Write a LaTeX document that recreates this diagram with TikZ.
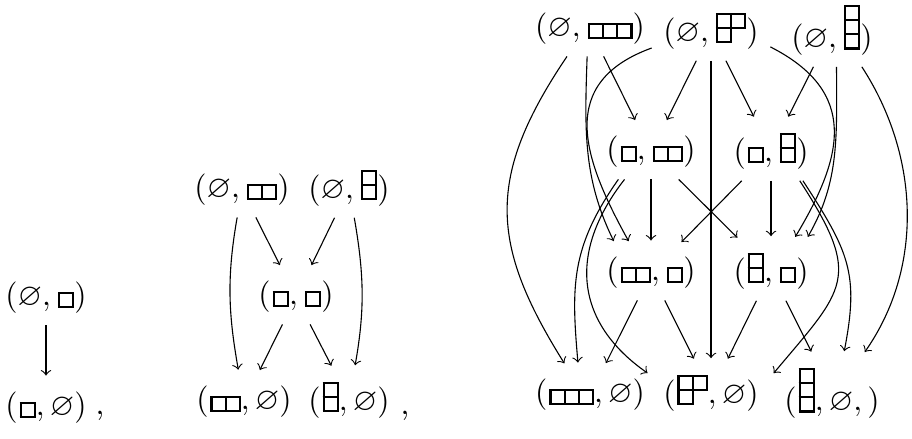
\documentclass[tikz,border=0pt]{standalone}
\usepackage{amssymb}
\setlength{\fboxsep}{0pt}
\setlength{\fboxrule}{0.7pt}
\newcommand{\ycell}{\fbox{\rule{0pt}{3.8pt}\rule{3.8pt}{0pt}}}
\newcommand{\yd}[1]{\kern0.6pt\vbox{\offinterlineskip#1}}
\newcommand{\ybox}{\yd{\hbox{\ycell}}}
\newcommand{\ytwo}{\yd{\hbox{\ycell\kern-\fboxrule\ycell}}}
\newcommand{\ythree}{\yd{\hbox{\ycell\kern-\fboxrule\ycell\kern-\fboxrule\ycell}}}
\newcommand{\ytwov}{\yd{\hbox{\ycell}\kern-\fboxrule\hbox{\ycell}}}
\newcommand{\ythreev}{\yd{\hbox{\ycell}\kern-\fboxrule\hbox{\ycell}\kern-\fboxrule\hbox{\ycell}}}
\newcommand{\yhook}{\yd{\hbox{\ycell\kern-\fboxrule\ycell}\kern-\fboxrule\hbox{\ycell}}}

\begin{document}
\begin{tikzpicture}[x=0.3175pt,y=-0.3175pt,
    obj/.style={inner sep=3.5pt},
    map/.style={->,line width=0.35pt,shorten >=1.6pt}]
    \useasboundingbox (0,0) rectangle (912,439);

    \node[obj] (N0x1) at (46,298) {$(\varnothing,\ybox)$};
    \node[obj] (N1x0) at (46,408) {$(\ybox,\varnothing)$};
    \node[anchor=base,inner sep=0pt] (C1) at (100,415) {,};

    \node[obj] (M0x2) at (242,190) {$(\varnothing,\ytwo)$};
    \node[obj] (M0x11) at (349,188) {$(\varnothing,\ytwov)$};
    \node[obj] (M1x1) at (296,297) {$(\ybox,\ybox)$};
    \node[obj] (M2x0) at (244,402) {$(\ytwo,\varnothing)$};
    \node[obj] (M11x0) at (349,400) {$(\ytwov,\varnothing)$};
    \node[anchor=base,inner sep=0pt] (C2) at (405,415) {,};

    \node[obj] (T0x3) at (590,29) {$(\varnothing,\ythree)$};
    \node[obj] (T0x21) at (711,31) {$(\varnothing,\yhook)$};
    \node[obj] (T0x111) at (832,30) {$(\varnothing,\ythreev)$};
    \node[obj] (T1x2) at (651,152) {$(\ybox,\ytwo)$};
    \node[obj] (T1x11) at (771,151) {$(\ybox,\ytwov)$};
    \node[obj] (T2x1) at (651,273) {$(\ytwo,\ybox)$};
    \node[obj] (T11x1) at (771,271) {$(\ytwov,\ybox)$};
    \node[obj] (T3x0) at (590,395) {$(\ythree,\varnothing)$};
    \node[obj] (T21x0) at (711,393) {$(\yhook,\varnothing)$};
    \node[obj] (T111x0) at (832,393) {$(\ythreev,\varnothing,)$};

    \draw[map] (N0x1) -- (N1x0);

    \draw[map] (M0x2) -- (M1x1);
    \draw[map] (M0x11) -- (M1x1);
    \draw[map] (M1x1) -- (M2x0);
    \draw[map] (M1x1) -- (M11x0);
    \draw[map] (M0x2) to[out=-100,in=100] (M2x0);
    \draw[map] (M0x11) to[out=-80,in=80] (M11x0);

    \draw[map] (T0x3) -- (T1x2);
    \draw[map] (T0x21) -- (T1x2);
    \draw[map] (T0x21) -- (T1x11);
    \draw[map] (T0x111) -- (T1x11);
    \draw[map] (T0x21) -- (T21x0);
    \draw[map] (T1x2) -- (T2x1);
    \draw[map] (T1x2) -- (T11x1);
    \draw[map] (T1x11) -- (T2x1);
    \draw[map] (T1x11) -- (T11x1);
    \draw[map] (T2x1) -- (T3x0);
    \draw[map] (T2x1) -- (T21x0);
    \draw[map] (T11x1) -- (T21x0);
    \draw[map] (T11x1) -- (T111x0);

    \draw[map] (T0x3.-130) to[out=-124,in=122,looseness=1.2] (T3x0.130);
    \draw[map] (T0x3.-96) to[out=-92,in=116] (T2x1.142);
    \draw[map] (T0x21.-164) to[out=-160,in=119,looseness=1.3] (T2x1.126);
    \draw[map] (T0x21.-15) to[out=-27,in=59,looseness=1.3] (T11x1.54);
    \draw[map] (T0x111.-83) to[out=-90,in=60] (T11x1.41);
    \draw[map] (T0x111.-51) to[out=-57,in=55,looseness=0.95] (T111x0.51);
    \draw[map] (T1x2.-140) to[out=-125,in=95,looseness=1.1] (T3x0.113);
    \draw[map] (T1x2.-134) to[out=-128,in=145,looseness=1.2] (T21x0.164);
    \draw[map] (T1x11.-46) to[out=-57,in=50,looseness=1.5] (T21x0.15);
    \draw[map] (T1x11.-43) to[out=-57,in=79,looseness=1.2] (T111x0.73);
\end{tikzpicture}
\end{document}
